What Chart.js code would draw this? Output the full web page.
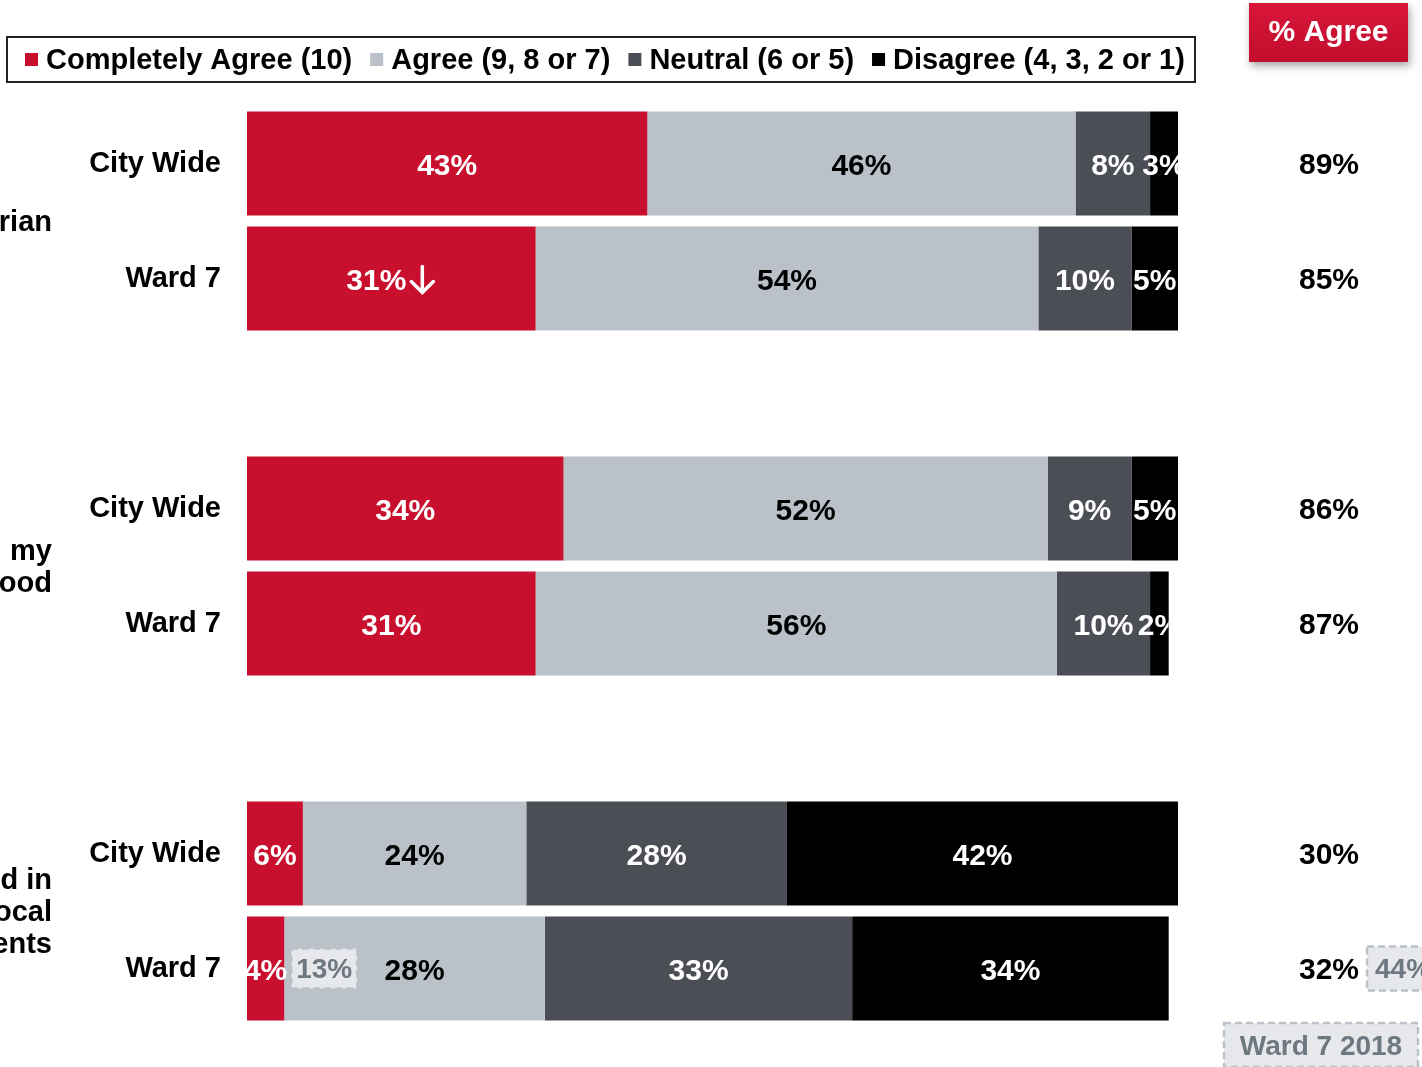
<!DOCTYPE html>
<html>
<head>
<meta charset="utf-8">
<script src="https://cdn.jsdelivr.net/npm/chart.js@4.4.0/dist/chart.umd.min.js"></script>
<style>
  html, body { margin: 0; padding: 0; background: #fff; }
</style>
</head>
<body>
<canvas id="myChart" width="1422" height="1067"></canvas>
<script>
// rows (empty entries are the gaps between question groups)
const rowLabels = ['City Wide', 'Ward 7', '', 'City Wide', 'Ward 7', '', 'City Wide', 'Ward 7'];
const completelyAgree = [43, 31, null, 34, 31, null, 6, 4];
const agree = [46, 54, null, 52, 56, null, 24, 28];
const neutral = [8, 10, null, 9, 10, null, 28, 33];
const disagree = [3, 5, null, 5, 2, null, 42, 34];
const pctAgree = [89, 85, null, 86, 87, null, 30, 32];
// significant decrease marker
const sigDown = [false, true, false, false, false, false, false, false];
// Ward 7 2018 comparison values
const ward2018Completely = [null, null, null, null, null, null, null, 13];
const ward2018Agree = [null, null, null, null, null, null, null, 44];
// question text (only the visible part)
const groupLabels = [['rian'], ['my', 'ood'], ['d in', 'ocal', 'ents']];
const groupCenters = [0.5, 3.5, 6.5];

const FONT = '"Liberation Sans", Arial, sans-serif';
const colors = ['#c8102e', '#bac1c8', '#4b4e55', '#000000'];
const labelColors = ['#ffffff', '#000000', '#ffffff', '#ffffff'];

const overlay = {
  id: 'overlay',
  afterDatasetsDraw(chart) {
    const ctx = chart.ctx;
    const area = chart.chartArea;
    const xs = chart.scales.x, ys = chart.scales.y;
    ctx.save();

    // segment labels
    ctx.textAlign = 'center';
    ctx.textBaseline = 'middle';
    ctx.font = 'bold 30px ' + FONT;
    const lastMeta = chart.getDatasetMeta(3);
    chart.data.datasets.forEach((ds, i) => {
      const meta = chart.getDatasetMeta(i);
      meta.data.forEach((el, j) => {
        const v = ds.data[j];
        if (v == null) return;
        const end = lastMeta.data[j].x;
        ctx.save();
        ctx.beginPath();
        ctx.rect(area.left, el.y - 60, end - area.left, 120);
        ctx.clip();
        ctx.fillStyle = labelColors[i];
        const txt = v + '%';
        let cx = (el.x + el.base) / 2;
        if (i === 0 && sigDown[j]) {
          const w = ctx.measureText(txt).width;
          const left = cx - (w + 30) / 2;
          ctx.textAlign = 'left';
          ctx.fillText(txt, left, el.y + 3);
          // down arrow
          const ax = left + w + 16;
          ctx.strokeStyle = labelColors[i];
          ctx.lineWidth = 3.5;
          ctx.lineCap = 'round';
          ctx.beginPath();
          ctx.moveTo(ax, el.y - 12);
          ctx.lineTo(ax, el.y + 14);
          ctx.moveTo(ax - 11, el.y + 3);
          ctx.lineTo(ax, el.y + 14);
          ctx.lineTo(ax + 11, el.y + 3);
          ctx.stroke();
        } else {
          ctx.fillText(txt, cx, el.y + 3);
        }
        ctx.restore();
      });
    });

    // % agree column
    const colX = area.right + 151;
    ctx.fillStyle = '#000';
    pctAgree.forEach((v, j) => {
      if (v == null) return;
      ctx.fillText(v + '%', colX, ys.getPixelForValue(j) + 2);
    });

    // dashed comparison boxes
    function dashBox(x, y, w, h, txt, align) {
      ctx.save();
      ctx.fillStyle = '#e6e8eb';
      ctx.fillRect(x, y, w, h);
      ctx.setLineDash([7, 4]);
      ctx.lineWidth = 2.5;
      ctx.strokeStyle = '#bac1c8';
      ctx.strokeRect(x, y, w, h);
      ctx.fillStyle = '#6d7880';
      ctx.font = 'bold 28px ' + FONT;
      ctx.textAlign = align;
      ctx.fillText(txt, align === 'left' ? x + 8 : x + w / 2, y + h / 2 + 2);
      ctx.restore();
    }
    ward2018Completely.forEach((v, j) => {
      if (v == null) return;
      const x = xs.getPixelForValue(completelyAgree[j]) + 7;
      dashBox(x, ys.getPixelForValue(j) - 20, 66, 40, v + '%', 'center');
    });
    ward2018Agree.forEach((v, j) => {
      if (v == null) return;
      dashBox(area.right + 189, ys.getPixelForValue(j) - 22, 70, 44, v + '%', 'left');
    });
    dashBox(area.right + 46, 1023, 194, 44, 'Ward 7 2018', 'center');

    // question labels (cut off on the left)
    ctx.fillStyle = '#000';
    ctx.font = 'bold 29px ' + FONT;
    ctx.textAlign = 'right';
    groupLabels.forEach((lines, g) => {
      const cy = ys.getPixelForValue(groupCenters[g]);
      lines.forEach((t, k) => {
        ctx.fillText(t, 52, cy + (k - (lines.length - 1) / 2) * 32 + 2);
      });
    });

    // legend
    ctx.lineWidth = 2;
    ctx.strokeStyle = '#222';
    ctx.strokeRect(7, 37, 1188, 45);
    ctx.textAlign = 'left';
    let lx = 25;
    chart.data.datasets.forEach((ds, i) => {
      ctx.fillStyle = colors[i];
      ctx.fillRect(lx, 53, 13, 13);
      ctx.fillStyle = '#000';
      ctx.fillText(ds.label, lx + 21, 61);
      lx += 21 + ctx.measureText(ds.label).width + 18;
    });

    // % Agree badge
    ctx.save();
    ctx.shadowColor = 'rgba(0,0,0,0.35)';
    ctx.shadowBlur = 8;
    ctx.shadowOffsetX = 2;
    ctx.shadowOffsetY = 4;
    const g = ctx.createLinearGradient(0, 3, 0, 62);
    g.addColorStop(0, '#d8163a');
    g.addColorStop(1, '#c20d2d');
    ctx.fillStyle = g;
    ctx.fillRect(1249, 3, 159, 59);
    ctx.restore();
    ctx.fillStyle = '#fff';
    ctx.font = 'bold 30px ' + FONT;
    ctx.textAlign = 'center';
    ctx.fillText('% Agree', 1328.5, 33);

    ctx.restore();
  }
};

new Chart('myChart', {
  type: 'bar',
  data: {
    labels: rowLabels,
    datasets: [
      { label: 'Completely Agree (10)', data: completelyAgree, backgroundColor: colors[0] },
      { label: 'Agree (9, 8 or 7)', data: agree, backgroundColor: colors[1] },
      { label: 'Neutral (6 or 5)', data: neutral, backgroundColor: colors[2] },
      { label: 'Disagree (4, 3, 2 or 1)', data: disagree, backgroundColor: colors[3] }
    ]
  },
  options: {
    indexAxis: 'y',
    responsive: false,
    animation: false,
    devicePixelRatio: 1,
    datasets: {
      bar: { categoryPercentage: 1, barPercentage: 0.905, borderWidth: 0 }
    },
    layout: { padding: { left: 0, right: 244, top: 106, bottom: 41 } },
    plugins: {
      legend: { display: false },
      tooltip: { enabled: false }
    },
    scales: {
      x: { stacked: true, min: 0, max: 100, display: false },
      y: {
        stacked: true,
        grid: { display: false },
        border: { display: false },
        ticks: {
          color: '#000',
          padding: 18,
          font: { family: FONT, size: 29, weight: 'bold' }
        },
        afterFit(scale) { scale.width = 247; }
      }
    }
  },
  plugins: [overlay]
});
</script>
</body>
</html>
